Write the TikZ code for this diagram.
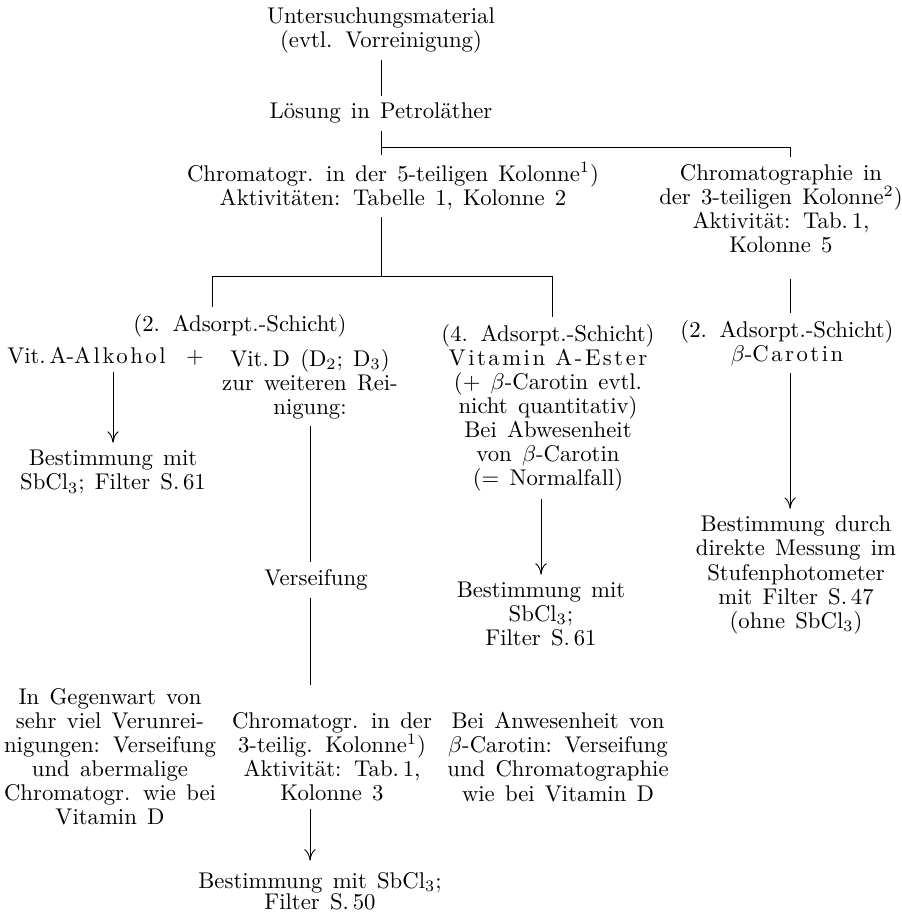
\documentclass[tikz,border=0pt]{standalone}
\usepackage{fontspec}
\setmainfont{Latin Modern Roman}
\usetikzlibrary{arrows.meta}
\newcommand{\gesp}[1]{{\addfontfeatures{LetterSpace=11}#1}}

\begin{document}
\begin{tikzpicture}[x=0.44pt, y=-0.44pt, >={To[length=5pt,width=5pt]},
  txt/.style={align=center, inner sep=3pt,
    font={\fontsize{10}{10.6}\selectfont\spaceskip=4.5pt plus 1pt\relax}}]
  \useasboundingbox (0,0) rectangle (902,916);

  % Ausgangsmaterial
  \node[txt] (unt) at (381,30) {Untersuchungsmaterial\\(evtl. Vorreinigung)};
  \node[txt] (loe) at (381,113) {Lösung in Petroläther};

  % Chromatographie
  \node[txt] (chr5) at (393,186) {Chromatogr. in der 5-teiligen Kolonne\textsuperscript{1})\\Aktivitäten: Tabelle 1, Kolonne 2};
  \node[txt] (chr3) at (781,209) {Chromatographie in\\der 3-teiligen Kolonne\textsuperscript{2})\\Aktivität: Tab.\,1,\\Kolonne 5};

  % Adsorptionsschichten
  \node[txt] (ads2) at (240,326) {(2. Adsorpt.-Schicht)};
  \node[txt, anchor=west] (vitA) at (0,356) {Vit.\,A-\gesp{Alkohol} \ $+$};
  \node[txt] (vitD) at (310,384) {Vit.\,D (D$_2$; D$_3$)\\zur weiteren Rei-\\nigung:};
  \node[txt] (ads4) at (548,408) {(4. Adsorpt.-Schicht)\\\gesp{Vitamin A-Ester}\\($+$ $\beta$-Carotin evtl.\\nicht quantitativ)\\Bei Abwesenheit\\von $\beta$-Carotin\\($=$ Normalfall)};
  \node[txt] (ads2r) at (787,343) {(2. Adsorpt.-Schicht)\\$\beta$-\gesp{Carotin}};

  % Bestimmungen
  \node[txt] (best1) at (113,472) {Bestimmung mit\\SbCl$_3$; Filter S.\,61};
  \node[txt] (bestR) at (796,575) {Bestimmung durch\\direkte Messung im\\Stufenphotometer\\mit Filter S.\,47\\(ohne SbCl$_3$)};
  \node[txt] (vers) at (316,580) {Verseifung};
  \node[txt] (best2) at (541,614) {Bestimmung mit\\SbCl$_3$;\\Filter S.\,61};

  % Sonderfaelle
  \node[txt] (gegen) at (110,757) {In Gegenwart von\\sehr viel Verunrei-\\nigungen: Verseifung\\und abermalige\\Chromatogr. wie bei\\Vitamin D};
  \node[txt] (chr3b) at (332,757) {Chromatogr. in der\\3-teilig. Kolonne\textsuperscript{1})\\Aktivität: Tab.\,1,\\Kolonne 3};
  \node[txt] (anw) at (558,757) {Bei Anwesenheit von\\$\beta$-Carotin: Verseifung\\und Chromatographie\\wie bei Vitamin D};
  \node[txt] (best3) at (320,891) {Bestimmung mit SbCl$_3$;\\[-1.5pt]Filter S.\,50};

  % Verzweigungen
  \coordinate (forkA) at (381,147);
  \coordinate (forkL) at (212,276);
  \coordinate (forkM) at (381,276);
  \coordinate (forkR) at (552,276);

  \draw (unt) -- (loe);
  \draw (loe) -- (loe |- chr5.north);
  \draw (forkA) -| ([xshift=4pt]chr3.north);
  \draw (chr5.south -| forkM) -- (forkM);
  \draw (forkL |- ads2.north) -- (forkL) -- (forkR) -- (forkR |- ads4.north);
  \draw[shorten <=8pt] ([xshift=4pt]chr3.south) -- ([xshift=4pt]chr3.south |- ads2r.north);

  \draw[->] (best1 |- vitA.south) -- (best1);
  \draw (vitD) -- (vitD |- vers.north);
  \draw[shorten >=9pt] (vitD |- vers.south) -- (vitD |- chr3b.north);
  \draw[->, shorten >=2pt] (vitD |- chr3b.south) -- (vitD |- best3.north);
  \draw[->] (best2 |- ads4.south) -- (best2);
  \draw[->] ([xshift=4pt]chr3.south |- ads2r.south) -- ([xshift=4pt]chr3.south |- bestR.north);
\end{tikzpicture}
\end{document}
